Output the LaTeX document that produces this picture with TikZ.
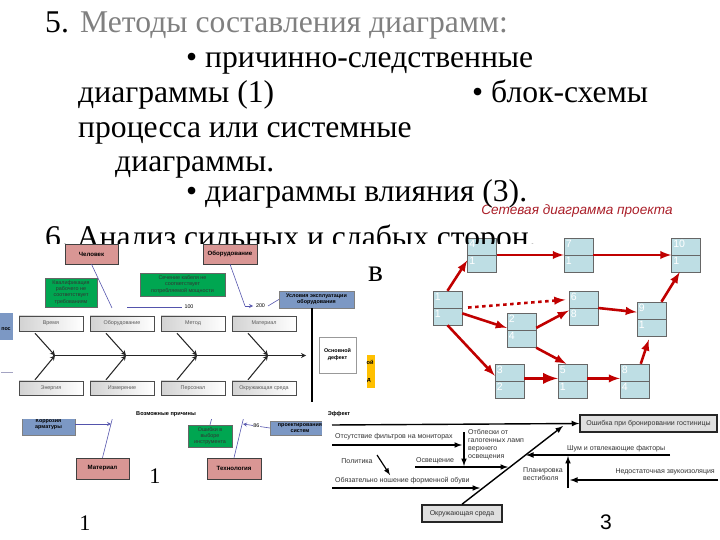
\documentclass[tikz,border=0pt]{standalone}
\usepackage{fontspec}
\setmainfont{Liberation Serif}
\newfontfamily\slidefont{Liberation Serif}
\newfontfamily\dgmfont{Liberation Sans}
\usetikzlibrary{positioning}
\definecolor{pinkfill}{RGB}{217,150,148}
\definecolor{greenfill}{RGB}{0,166,81}
\definecolor{bluefill}{RGB}{124,152,196}
\definecolor{orangefill}{RGB}{255,192,0}
\definecolor{netfill}{RGB}{190,222,228}
\definecolor{netred}{RGB}{192,0,0}
\definecolor{titlered}{RGB}{170,30,40}
\definecolor{slidegray}{RGB}{128,128,128}

\begin{document}
\begin{tikzpicture}[x=0.03cm,y=-0.03cm,
  slide/.style={anchor=base west,inner sep=0pt,font=\slidefont\fontsize{27}{30}\selectfont},
  boxsize/.style 2 args={minimum width=#1*0.03cm,minimum height=#2*0.03cm},
  smalltxt/.style={font=\dgmfont\fontsize{4.6}{5.2}\selectfont,align=center,inner sep=0pt},
  pinkbox/.style={smalltxt,draw=black!75,fill=pinkfill,font=\dgmfont\bfseries\fontsize{5.2}{6}\selectfont},
  greenbox/.style={smalltxt,draw=black!60,fill=greenfill,text=black!80},
  bluebox/.style={smalltxt,draw=black!50,fill=bluefill,font=\dgmfont\bfseries\fontsize{4.6}{5.2}\selectfont},
  graybox/.style={smalltxt,draw=black!70,left color=gray!35,right color=white,text=black!65},
  fishthin/.style={draw=blue!35!gray,line width=0.5pt},
  bone/.style={draw=black!85,line width=0.9pt,-stealth},
  hoteltxt/.style={font=\dgmfont\fontsize{6}{7}\selectfont,text=black!80,inner sep=0pt},
  hotelbox/.style={hoteltxt,draw=black!85,line width=1.3pt,fill=gray!25},
  hotelarrow/.style={draw=black,line width=1.2pt,-latex},
  netbox/.style={draw=black!60,fill=netfill,boxsize={29}{34},inner sep=0pt},
  netnum/.style={font=\dgmfont\fontsize{9}{10}\selectfont,text=white,inner sep=1.5pt},
  netedge/.style={draw=netred,line width=2.2pt,-latex},
  label1/.style={font=\fontsize{19}{20}\selectfont,inner sep=0pt}]
\useasboundingbox (0,0) rectangle (720,540);

% network diagram
\node[font=\dgmfont\itshape\fontsize{11.6}{12}\selectfont,text=titlered,inner sep=0pt] (nettitle) at (577,211) {Сетевая диаграмма проекта};
\foreach \nm/\cx/\cy/\ta/\tb in {n1/447.5/308/1/1,n2/521.5/330.5/2/4,n3/509.5/381/3/2,n4/482/255/4/1,n5/572.5/381/5/1,n6/583.5/308/6/8,n7/578.5/255/7/1,n8/634.5/381/8/4,n9/651.5/319/9/1,n10/686/255/10/1}{
  \node[netbox] (\nm) at (\cx,\cy) {};
  \draw[black!60] (\nm.west) -- (\nm.east);
  \node[netnum,anchor=north west] (\nm-a) at (\nm.north west) {\ta};
  \node[netnum,anchor=north west] (\nm-b) at (\nm.west) {\tb};
}
\draw[netedge] (n1.north) -- (n4.200);
\draw[netedge] (n4) -- (n7);
\draw[netedge] (n7) -- (n10);
\draw[netedge,dashed,shorten <=5pt,shorten >=3pt] (n1.east) -- (n6.150);
\draw[netedge] (n1.340) -- (n2.170);
\draw[netedge] (n2.10) -- (n6.190);
\draw[netedge] (n6.east) -- (n9.155);
\draw[netedge] (n9.60) -- (n10.250);
\draw[netedge] (n1.south) -- (n3.160);
\draw[netedge] (n2.south east) -- (n5.110);
\draw[netedge,line width=3.2pt] (n3.10) -- (n5.170);
\draw[netedge] (n5.10) -- (n8.170);
\draw[netedge,shorten >=3pt] (n8.70) -- (n9.265);

% slide text
\node[slide] (p5) at (45,33) {5.};
\node[slide,text=slidegray] (p5t) at (80,33) {Методы составления диаграмм:};
\node[slide] (l2) at (186,68) {• причинно-следственные};
\node[slide] (l3) at (78,103) {диаграммы (1)};
\node[slide] (l3b) at (472,103) {• блок-схемы};
\node[slide] (l4) at (78,138) {процесса или системные};
\node[slide] (l5) at (115,172) {диаграммы.};
\node[slide] (l6) at (186,202) {• диаграммы влияния (3).};
\begin{scope}
\clip (0,0) rectangle (720,244);
\node[slide] (p6) at (45,248) {6.\ Анализ сильных и слабых сторон,};
\end{scope}
\node[slide] (frag) at (368,282) {в};
\fill[white] (0,244) rectangle (384,262);

% fishbone, upper part
\node[pinkbox,boxsize={53}{20}] (chel) at (91.5,254) {Человек};
\node[pinkbox,boxsize={54}{20}] (obor) at (230,254) {Оборудование};
\node[greenbox,boxsize={52}{29}] (kval) at (71,292.5) {Квалификация\\рабочего не\\соответствует\\требованиям};
\node[greenbox,boxsize={85}{23}] (sech) at (182.5,284.5) {Сечение кабеля не\\соответствует\\потребляемой мощности};
\node[bluebox,boxsize={75}{17}] (uslov) at (316.5,299.5) {Условия эксплуатации\\оборудования};
\coordinate (c1) at (112,308);
\coordinate (c2) at (127,307);
\coordinate (c3) at (182,307);
\coordinate (c4) at (245,306);
\coordinate (c5) at (253,306);
\coordinate (c6) at (268,306);
\draw[fishthin] (chel.south) -- (c1);
\draw[fishthin] (c2) -- (c3);
\node[smalltxt] (v100) at (189,307) {100};
\draw[fishthin] (obor.south) -- (c4);
\draw[fishthin,-stealth] (c4) -- (c5);
\node[smalltxt] (v200) at (260.5,306) {200};
\draw[fishthin] (c6) -- (uslov.west);

\fill[bluefill] (0,313) rectangle (13,340);
\node[smalltxt,font=\dgmfont\bfseries\fontsize{4.6}{5.2}\selectfont] (pos) at (6,329) {пос};
\coordinate (g1) at (1,372);
\coordinate (g2) at (13,372);
\draw[fishthin,draw=blue!20!gray!60] (g1) -- (g2);

\foreach \lab/\blab [count=\i from 0] in {Время/Энергия,Оборудование/Измерение,Метод/Персонал,Материал/Окружающая среда}{
  \node[graybox,boxsize={64}{15}] (top\i) at (51+71*\i,323.5) {\lab};
  \node[graybox,boxsize={64}{14}] (bot\i) at (51+71*\i,388) {\blab};
  \coordinate (sp\i) at (55+71*\i,355.5);
  \draw[bone] (top\i.south) ++(-16,2) -- (sp\i);
  \draw[bone] (bot\i.north) ++(-16,-1) -- (sp\i);
}
\coordinate (spA) at (53,355.5);
\coordinate (spB) at (306,355.5);
\draw[bone] (spA) -- (spB);
\coordinate (vt1) at (312,308);
\coordinate (vt2) at (312,402);
\draw[black,line width=1.3pt] (vt1) -- (vt2);
\node[smalltxt,draw=black!40,fill=white,boxsize={37}{36},font=\dgmfont\bfseries\fontsize{4.6}{6}\selectfont] (osn) at (337.5,355) {Основной\\дефект};
\fill[orangefill] (367,355) rectangle (375,388);
\node[smalltxt,font=\dgmfont\bfseries\fontsize{4.8}{5}\selectfont,anchor=west] (or1) at (366.5,362) {ой};
\node[smalltxt,font=\dgmfont\bfseries\fontsize{4.8}{5}\selectfont,anchor=west] (or2) at (367,381) {д};

% fishbone, lower part
\node[bluebox,boxsize={53}{22}] (korr) at (48.5,424) {Коррозия\\арматуры};
\coordinate (k1) at (111,424);
\draw[fishthin,-stealth] (korr.east) -- (k1);
\node[pinkbox,boxsize={53}{21}] (mat) at (102.5,468.5) {Материал};
\node[pinkbox,boxsize={54}{21}] (tech) at (234,468.5) {Технология};
\coordinate (m1) at (114,412);
\coordinate (t1) at (245,412);
\draw[fishthin] (mat.north) -- (m1);
\draw[fishthin] (tech.north) -- (t1);
\node[greenbox,boxsize={44}{22}] (osh) at (210,436) {Ошибки в\\выборе\\инструмента};
\coordinate (o1) at (213,414);
\draw[fishthin] (osh.north) -- (o1);
\node[bluebox,boxsize={60}{14}] (proekt) at (300,428) {проектирования\\систем};
\coordinate (pr1) at (243,424);
\draw[fishthin,-stealth] (proekt.west) -- node[fill=white,smalltxt,inner sep=0.5pt] (v86) {86} (pr1);
\fill[white] (0,404) rectangle (322,419.5);
\node[smalltxt,font=\dgmfont\bfseries\fontsize{4.8}{5.5}\selectfont] (vozm) at (166,414) {Возможные причины};
\node[smalltxt,font=\dgmfont\bfseries\fontsize{4.8}{5.5}\selectfont] (eff) at (339,414) {Эффект};

% hotel diagram
\fill[white] (322,419.5) rectangle (720,540);
\node[hotelbox,boxsize={137}{17}] (err) at (648.5,423.5) {Ошибка при бронировании гостиницы};
\node[hotelbox,boxsize={80}{17}] (env) at (462,513.5) {Окружающая среда};
\coordinate (hs) at (332,425);
\draw[hotelarrow] (hs) -- (err.west);
\coordinate (hj) at (563,426);
\draw[hotelarrow] (env.north) -- (hj);
\node[hoteltxt,anchor=west] (tfil) at (335,437) {Отсутствие фильтров на мониторах};
\coordinate (f0) at (332,445);
\coordinate (f1) at (462,445);
\draw[hotelarrow] (f0) -- (f1);
\node[hoteltxt,anchor=north west,align=left] (totb) at (468,429) {Отблески от\\галогенных ламп\\верхнего\\освещения};
\coordinate (vo0) at (464,432);
\coordinate (vo1) at (464,466);
\draw[hotelarrow] (vo0) -- (vo1);
\node[hoteltxt] (tpol) at (357,461) {Политика};
\coordinate (pp0) at (377,455);
\coordinate (pp1) at (390,475);
\draw[hotelarrow,line width=1pt] (pp0) -- (pp1);
\node[hoteltxt] (tosv) at (435,461) {Освещение};
\coordinate (os0) at (415,467);
\coordinate (os1) at (508,467);
\draw[hotelarrow] (os0) -- (os1);
\node[hoteltxt,anchor=west] (tobuv) at (335,481) {Обязательно ношение форменной обуви};
\coordinate (ob0) at (332,488);
\coordinate (ob1) at (480,488);
\draw[hotelarrow] (ob0) -- (ob1);
\node[hoteltxt,anchor=west] (tshum) at (567,449) {Шум и отвлекающие факторы};
\coordinate (sh0) at (670,455);
\coordinate (sh1) at (526,455);
\draw[hotelarrow] (sh0) -- (sh1);
\node[hoteltxt,anchor=west,align=left] (tplan) at (523,474) {Планировка\\вестибюля};
\coordinate (pl0) at (568,488);
\coordinate (pl1) at (568,456);
\draw[hotelarrow] (pl0) -- (pl1);
\node[hoteltxt,anchor=east] (tzv) at (715,472) {Недостаточная звукоизоляция};
\coordinate (zv0) at (718,480);
\coordinate (zv1) at (570,480);
\draw[hotelarrow] (zv0) -- (zv1);

% picture numbers
\node[label1] (num1a) at (155,476) {1};
\node[label1] (num1b) at (85,523) {1};
\node[label1,font=\dgmfont\fontsize{18}{20}\selectfont] (num3) at (606,522) {3};
\end{tikzpicture}
\end{document}
